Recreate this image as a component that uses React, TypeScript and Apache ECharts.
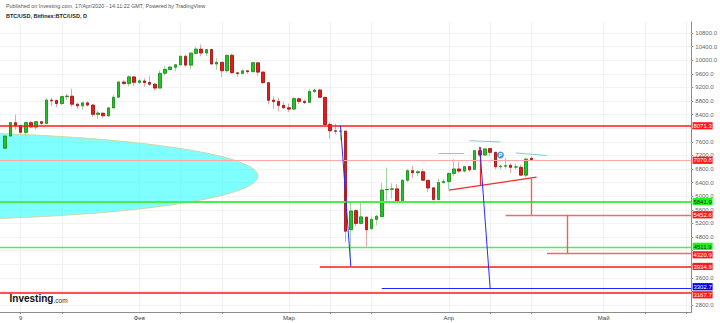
import React, { useEffect, useRef } from 'react';
import * as echarts from 'echarts';

const FONT = '"Liberation Sans", Arial, sans-serif';

const AXIS_FIRST_DAY = '2020-01-05';
const AXIS_LAST_DAY = '2020-05-18';
const FIRST_CANDLE_DAY = '2020-01-06';

// daily candles: [open, high, low, close]
const jan2020 = [
  [7410, 7782, 7409, 7769], [7769, 8178, 7768, 8164], [8162, 8397, 7957, 8080], [8082, 8082, 7842, 7879],
  [7878, 8167, 7727, 8167], [8162, 8218, 8030, 8038], [8033, 8198, 7960, 8192], [8190, 8198, 8080, 8144],
  [8141, 8880, 8141, 8828], [8825, 8890, 8657, 8807], [8812, 8846, 8612, 8724], [8725, 8958, 8677, 8929],
  [8927, 9012, 8827, 8943], [8941, 9164, 8620, 8706], [8705, 8746, 8560, 8658], [8659, 8756, 8545, 8746],
  [8744, 8793, 8637, 8681], [8681, 8688, 8334, 8407], [8406, 8515, 8267, 8445], [8440, 8458, 8296, 8368],
  [8364, 8603, 8326, 8597], [8597, 8978, 8597, 8910], [8913, 9359, 8908, 9359], [9357, 9407, 9269, 9317],
  [9316, 9553, 9231, 9509], [9508, 9522, 9231, 9351],
];
const feb2020 = [
  [9346, 9439, 9313, 9393], [9390, 9469, 9218, 9344], [9345, 9540, 9249, 9294], [9293, 9331, 9113, 9181],
  [9183, 9701, 9164, 9613], [9618, 9825, 9540, 9730], [9726, 9835, 9726, 9796], [9793, 9877, 9679, 9865],
  [9864, 10129, 9850, 10117], [10116, 10166, 9785, 9857], [9856, 10210, 9729, 10208], [10202, 10394, 10202, 10326],
  [10324, 10458, 10116, 10214], [10212, 10322, 10126, 10312], [10314, 10342, 9874, 9889], [9889, 10054, 9722, 9934],
  [9937, 9939, 9508, 9690], [9691, 10162, 9632, 10142], [10144, 10192, 9611, 9633], [9629, 9643, 9508, 9608],
  [9612, 9723, 9590, 9686], [9688, 9698, 9601, 9663], [9663, 9937, 9658, 9925], [9922, 9952, 9537, 9650],
  [9651, 9653, 9305, 9342], [9338, 9355, 8704, 8821], [8825, 8933, 8577, 8784], [8789, 8890, 8493, 8672],
  [8671, 8776, 8600, 8600],
];
const mar2020 = [
  [8600, 8727, 8471, 8562], [8563, 8921, 8533, 8870], [8865, 8902, 8705, 8788], [8789, 8843, 8712, 8755],
  [8760, 9142, 8757, 9079], [9078, 9168, 9032, 9123], [9122, 9163, 8891, 8910], [8908, 8914, 8105, 8108],
  [8111, 8178, 7690, 7924], [7922, 8137, 7815, 7910], [7910, 7951, 7643, 7911], [7914, 7929, 4650, 4971],
  [5018, 5838, 3940, 5564], [5573, 5625, 5125, 5200], [5201, 5837, 5169, 5392], [5385, 5385, 4520, 5014],
  [5050, 5400, 5000, 5320], [5320, 5450, 5150, 5410], [5400, 6390, 5380, 6180], [6192, 6844, 5866, 6199],
  [6207, 6378, 5933, 6215], [6215, 6360, 5824, 5830], [5831, 6490, 5785, 6470], [6470, 6800, 6411, 6750],
  [6750, 6893, 6537, 6690], [6690, 6760, 6591, 6720], [6719, 6794, 6467, 6470], [6467, 6468, 6118, 6242],
  [6246, 6250, 5900, 5900], [5900, 6517, 5890, 6400], [6400, 6505, 6374, 6430],
];
const apr2020 = [
  [6430, 6700, 6202, 6670], [6670, 7088, 6596, 6800], [6800, 7003, 6673, 6740], [6740, 6890, 6696, 6870],
  [6870, 6883, 6716, 6775], [6790, 7360, 6783, 7338], [7338, 7460, 7160, 7212], [7212, 7400, 7180, 7390],
  [7400, 7410, 7190, 7290], [7290, 7300, 6800, 6868], [6868, 6930, 6790, 6885], [6885, 7120, 6810, 6895],
  [6908, 6965, 6670, 6850], [6860, 6960, 6790, 6862], [6850, 6930, 6600, 6620], [6620, 7140, 6556, 7090],
  [7115, 7170, 7050, 7071],
];

const yTickValues = [2800, 3200, 3600, 4000, 4400, 4800, 5200, 5600, 6000, 6400, 6800, 7200, 7600, 8000, 8400, 8800, 9200, 9600, 10000, 10400, 10800];
const Y_MIN = 2594.5;
const Y_MAX = 11123.5;

const xLabelDays = ['2020-01-09', '2020-02-01', '2020-03-01', '2020-04-01', '2020-05-01'];
const xLabelTexts = ['9', 'Фев', 'Мар', 'Апр', 'Май'];
const xTickDaysOfMonth = [9, 17];
const xGridDaysOfMonth = [1, 9, 17];

// horizontal levels drawn on the chart and labelled on the price axis
const levelValues = [8071.3, 7070.8, 5841.9, 5452.6, 4511.9, 4320.9, 3934.8, 3302.7, 3167.7];
const levelStartDays = [null, null, null, '2020-04-12', null, '2020-04-20', '2020-03-07', '2020-03-19', null];
const levelKinds = ['red', 'current', 'green', 'redThin', 'greenThin', 'redThin', 'red', 'blue', 'red'];

// drawings [[day, price], [day, price]]
const blueLines = [
  [['2020-03-11', 8071.3], ['2020-03-13', 3934.8]],
  [['2020-04-07', 7440], ['2020-04-09', 3302.7]],
];
const redTrendLines = [
  [['2020-04-01', 6180], ['2020-04-18', 6560]],
  [['2020-04-07', 6310], ['2020-04-07', 7440]],
];
const redMeasureLines = [
  [['2020-04-17', 6540], ['2020-04-17', 5452.6]],
  [['2020-04-24', 5452.6], ['2020-04-24', 4320.9]],
];
const tealLines = [
  [['2020-03-30', 7271], ['2020-04-04', 7271]],
  [['2020-04-05', 7632], ['2020-04-11', 7594]],
  [['2020-04-14', 7271], ['2020-04-20', 7197]],
];
const pivotPoint = ['2020-04-11', 7210];
const ellipseRightDay = '2020-02-24';
const ellipseCenterPrice = 6594;
const ellipseHalfHeightPrice = 1294;
const ellipseWidthDays = 68.3;

const kindStyle: Record<string, any> = {
  red: { line: '#ff1a1a', width: 1.5, box: '#ff1a1a', text: '#ffffff' },
  current: { line: '#ffa8a8', width: 1, box: '#ff1a1a', text: '#ffffff' },
  green: { line: '#4cee4c', width: 2, box: '#22f022', text: '#0b3a0b' },
  greenThin: { line: '#5ae85a', width: 1.4, box: '#22f022', text: '#0b3a0b' },
  redThin: { line: '#f46a6a', width: 1.4, box: '#ff1a1a', text: '#ffffff' },
  blue: { line: '#2424ff', width: 1, box: '#0000f0', text: '#ffffff' },
};
const labelShift = [0, 0.5, 0, 0, -0.5, 1.5, 0, -1.2, 2.3];

function dayList(start: string, end: string): string[] {
  const out: string[] = [];
  const d = new Date(start + 'T00:00:00Z');
  const e = new Date(end + 'T00:00:00Z');
  while (d.getTime() <= e.getTime()) {
    out.push(d.toISOString().slice(0, 10));
    d.setUTCDate(d.getUTCDate() + 1);
  }
  return out;
}

export default function App() {
  const ref = useRef<HTMLDivElement>(null);
  useEffect(() => {
    const el = ref.current!;
    const chart = echarts.init(el, undefined, { renderer: 'svg' });
    const days = dayList(AXIS_FIRST_DAY, AXIS_LAST_DAY);
    const candles = [...jan2020, ...feb2020, ...mar2020, ...apr2020];
    const first = days.indexOf(FIRST_CANDLE_DAY);
    const wickRows = candles.map((c, i) => [days[first + i], c[0], c[3], c[2], c[1]]);
    const bodyRows = candles.map((c, i) => [days[first + i], c[0], c[3], Math.min(c[0], c[3]), Math.max(c[0], c[3])]);
    const dom = (v: string) => Number(v.slice(8, 10));

    const levelMarks: any[] = levelValues.map((v, i) => {
      const st = kindStyle[levelKinds[i]];
      const ls = { color: st.line, width: st.width, type: 'solid' };
      if (levelStartDays[i]) {
        return [{ coord: [levelStartDays[i], v], lineStyle: ls }, { coord: [AXIS_LAST_DAY, v] }];
      }
      return { yAxis: v, lineStyle: ls };
    });
    const seg = (arr: any[], color: string, width: number) =>
      arr.map((p) => [{ coord: p[0], lineStyle: { color, width, type: 'solid' } }, { coord: p[1] }]);
    const drawingMarks = [
      ...seg(tealLines, '#86cccc', 1),
      ...seg(redTrendLines, '#f22a2a', 1.2),
      ...seg(redMeasureLines, '#f06060', 1.4),
      ...seg(blueLines, '#2a2aff', 1),
    ];
    const gridMarks = yTickValues.map((v) => ({ yAxis: v }));

    chart.setOption({
      animation: false,
      backgroundColor: '#ffffff',
      textStyle: { fontFamily: FONT },
      grid: { left: -1, right: 28, top: 22, bottom: 11, containLabel: false },
      dataset: [
        { source: wickRows, sourceHeader: false },
        { source: bodyRows, sourceHeader: false },
      ],
      xAxis: {
        type: 'category',
        data: days,
        boundaryGap: false,
        axisLine: { show: true, lineStyle: { color: '#8c8c8c', width: 1 } },
        axisTick: {
          show: true,
          length: 2,
          interval: (_i: number, v: string) => xTickDaysOfMonth.includes(dom(v)),
          lineStyle: { color: '#8c8c8c' },
        },
        axisLabel: {
          show: true,
          interval: (_i: number, v: string) => xLabelDays.includes(v),
          formatter: (v: string) => {
            const k = xLabelDays.indexOf(v);
            return k >= 0 ? xLabelTexts[k] : '';
          },
          fontSize: 6,
          color: '#444',
          margin: 3,
          fontFamily: FONT,
        },
        splitLine: {
          show: true,
          interval: (_i: number, v: string) => xGridDaysOfMonth.includes(dom(v)),
          lineStyle: { color: '#f1f1f1', width: 1 },
        },
      },
      yAxis: {
        type: 'value',
        position: 'right',
        min: Y_MIN,
        max: Y_MAX,
        axisLine: { show: true, lineStyle: { color: '#8c8c8c', width: 1 } },
        axisTick: { show: true, length: 2, customValues: yTickValues, lineStyle: { color: '#8c8c8c' } },
        axisLabel: {
          customValues: yTickValues,
          formatter: (v: number) => v.toFixed(1),
          fontSize: 6,
          color: '#666',
          margin: 4,
          fontFamily: FONT,
        },
        splitLine: { show: false },
      },
      series: [
        {
          type: 'candlestick',
          datasetIndex: 0,
          encode: { x: 0, y: [1, 2, 3, 4] },
          barWidth: 3,
          z: 2,
          itemStyle: {
            color: 'rgba(0,0,0,0)',
            color0: 'rgba(0,0,0,0)',
            borderColor: '#a3d3a3',
            borderColor0: '#e4a6a6',
            borderWidth: 1,
          },
          markLine: {
            silent: true,
            symbol: ['none', 'none'],
            label: { show: false },
            emphasis: { disabled: true },
            data: [...levelMarks, ...drawingMarks],
          },
          markPoint: {
            silent: true,
            data: [
              {
                coord: pivotPoint,
                symbol: 'circle',
                symbolSize: 7,
                itemStyle: { color: '#3a9eea' },
                label: { show: true, formatter: 'P', color: '#ffffff', fontSize: 5, fontWeight: 'bold', position: 'inside' },
              },
            ],
          },
        },
        {
          type: 'candlestick',
          datasetIndex: 1,
          encode: { x: 0, y: [1, 2, 3, 4] },
          barWidth: 3,
          z: 3,
          itemStyle: {
            color: '#22c322',
            color0: '#e21b1b',
            borderColor: '#168c16',
            borderColor0: '#a51212',
            borderWidth: 0.8,
          },
          markLine: {
            silent: true,
            z: 1,
            symbol: ['none', 'none'],
            label: { show: false },
            emphasis: { disabled: true },
            lineStyle: { color: '#f3f3f3', width: 1, type: 'solid' },
            data: gridMarks,
          },
        },
      ],
    });

    const xOf = (d: string) => chart.convertToPixel({ xAxisIndex: 0 }, d) as number;
    const yOf = (v: number) => chart.convertToPixel({ yAxisIndex: 0 }, v) as number;
    const dayW = (xOf(AXIS_LAST_DAY) - xOf(AXIS_FIRST_DAY)) / (days.length - 1);
    const rx = ellipseWidthDays * dayW;
    const cx = xOf(ellipseRightDay) - rx;
    const cy = yOf(ellipseCenterPrice);
    const ry = yOf(ellipseCenterPrice - ellipseHalfHeightPrice) - cy;
    const axisX = xOf(AXIS_LAST_DAY);

    const boxCenters = levelValues.map((v, i) => yOf(v) + labelShift[i]);
    // tick labels that sit under a level box are hidden by it, as on the original
    const visibleTickLabels = yTickValues.filter((t) => {
      const ty = yOf(t);
      return boxCenters.every((by) => Math.abs(by - ty) >= 4.5);
    });

    const boxes = levelValues.map((v, i) => {
      const st = kindStyle[levelKinds[i]];
      const y = boxCenters[i];
      return {
        type: 'group',
        z: 20,
        children: [
          { type: 'rect', z: 20, shape: { x: axisX + 1.3, y: y - 3.6, width: 20, height: 7.2 }, style: { fill: st.box } },
          {
            type: 'text',
            z: 21,
            x: axisX + 11.3,
            y: y + 0.2,
            style: { text: v.toFixed(1), fill: st.text, fontSize: 6, fontFamily: FONT, align: 'center', verticalAlign: 'middle' },
          },
        ],
      };
    });

    chart.setOption({
      yAxis: { axisLabel: { customValues: visibleTickLabels } },
      graphic: [
        {
          type: 'ellipse',
          z: 1,
          shape: { cx, cy, rx, ry },
          style: { fill: 'rgba(0,255,255,0.5)', stroke: '#d6d29a', lineWidth: 0.9 },
        },
        {
          type: 'text',
          z: 10,
          x: 6,
          y: 6,
          style: {
            text: 'Published on Investing.com, 17/Apr/2020 - 14:11:22 GMT, Powered by TradingView',
            fill: '#555',
            fontSize: 5.4,
            fontFamily: FONT,
            verticalAlign: 'middle',
          },
        },
        {
          type: 'text',
          z: 10,
          x: 6,
          y: 15.5,
          style: { text: 'BTC/USD, Bitfinex:BTC/USD, D', fill: '#222', fontSize: 5.5, fontWeight: 'bold', fontFamily: FONT, verticalAlign: 'middle' },
        },
        {
          type: 'text',
          z: 10,
          x: 9.5,
          y: 303.8,
          style: { text: 'Investing', fill: '#111', fontSize: 10, fontWeight: 'bold', fontFamily: FONT, verticalAlign: 'bottom' },
        },
        {
          type: 'text',
          z: 10,
          x: 53.5,
          y: 303.6,
          style: { text: '.com', fill: '#333', fontSize: 6.5, fontFamily: FONT, verticalAlign: 'bottom' },
        },
        ...boxes,
      ],
    });

    return () => chart.dispose();
  }, []);
  return <div ref={ref} style={{ position: 'fixed', left: 0, top: 0, width: 720, height: 323 }} />;
}
